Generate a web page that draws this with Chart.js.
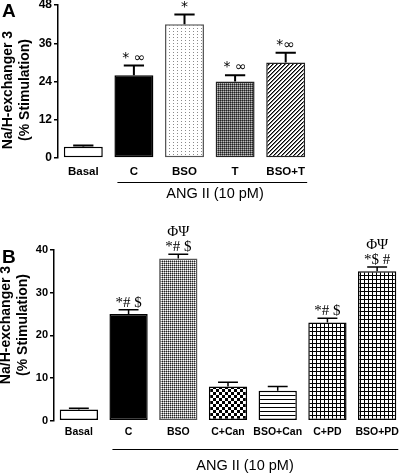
<!DOCTYPE html>
<html>
<head>
<meta charset="utf-8">
<script src="https://cdn.jsdelivr.net/npm/chart.js@4.4.0/dist/chart.umd.min.js"></script>
<style>
  html, body { margin: 0; padding: 0; background: #fff; overflow: hidden; }
  #page { position: relative; width: 400px; height: 475px; overflow: hidden; font-family: 'Liberation Sans', Arial, sans-serif; color: #000; }
  canvas { position: absolute; left: 0; }
  #chartA { top: 0; }
  #chartB { top: 215px; }
  .panel { position: absolute; left: 2px; font-weight: bold; font-size: 19px; line-height: 1; }
  .ytitle { position: absolute; font-weight: bold; font-size: 14px; line-height: 17px; white-space: nowrap; text-align: center; transform: translate(-50%, -50%) rotate(-90deg); }
  .group { position: absolute; font-size: 14.5px; white-space: nowrap; transform: translate(-50%, -50%); }
</style>
</head>
<body>
<div id="page">
  <canvas id="chartA" width="400" height="210"></canvas>
  <canvas id="chartB" width="402" height="260"></canvas>
  <div class="panel" style="top:1px">A</div>
  <div class="panel" style="top:247px">B</div>
  <div class="ytitle" style="left:16px; top:90px">Na/H-exchanger 3<br>(% Stimulation)</div>
  <div class="ytitle" style="left:14px; top:325px">Na/H-exchanger 3<br>(% Stimulation)</div>
  <div class="group" id="groupA" style="left:215px; top:193px"></div>
  <div class="group" id="groupB" style="left:245px; top:465px"></div>
</div>
<script>
// panel A
const categoriesA = ['Basal', 'C', 'BSO', 'T', 'BSO+T'];
const valuesA = [3.5, 26, 42, 24, 30];
const errorsA = [0.4, 3, 3, 2, 3];
const marksA = [[], ['* \u221E'], ['*'], ['* \u221E'], ['*\u221E']];
const yTicksA = [0, 12, 24, 36, 48];

// panel B
const categoriesB = ['Basal', 'C', 'BSO', 'C+Can', 'BSO+Can', 'C+PD', 'BSO+PD'];
const valuesB = [2.6, 25, 38, 8, 7, 23, 35];
const errorsB = [0.3, 1, 1, 1, 1, 1, 1];
const marksB = [[], ['*# $'], ['\u03A6\u03A8', '*# $'], [], [], ['*# $'], ['\u03A6\u03A8', '*$ #']];
const yTicksB = [0, 10, 20, 30, 40];

const groupLabel = 'ANG II (10 pM)';
const sans = "'Liberation Sans', Arial, sans-serif";

document.getElementById('groupA').textContent = groupLabel;
document.getElementById('groupB').textContent = groupLabel;

function tile(ctx, w, h, paint) {
  const c = document.createElement('canvas');
  c.width = w;
  c.height = h;
  const g = c.getContext('2d');
  g.fillStyle = '#fff';
  g.fillRect(0, 0, w, h);
  paint(g);
  return ctx.createPattern(c, 'repeat');
}

function dot(g, x, y, color) {
  g.fillStyle = color;
  g.fillRect(x, y, 1, 1);
}

// error bars, significance marks and the ANG II bracket
const barExtras = {
  id: 'barExtras',
  afterDatasetsDraw(chart, args, opts) {
    const { ctx, chartArea } = chart;
    const y = chart.scales.y;
    const ds = chart.data.datasets[0];
    const bars = chart.getDatasetMeta(0).data;
    ctx.save();
    ctx.strokeStyle = '#000';
    ctx.fillStyle = '#000';
    ctx.lineWidth = opts.lineWidth;
    bars.forEach((bar, i) => {
      const top = y.getPixelForValue(ds.data[i]);
      const cap = y.getPixelForValue(ds.data[i] + ds.errors[i]);
      const half = bar.width * 0.26;
      ctx.beginPath();
      ctx.moveTo(bar.x, top);
      ctx.lineTo(bar.x, cap);
      ctx.moveTo(bar.x - half, cap);
      ctx.lineTo(bar.x + half, cap);
      ctx.stroke();

      const lines = ds.marks[i];
      ctx.font = opts.markFont;
      ctx.textAlign = 'center';
      ctx.textBaseline = 'alphabetic';
      lines.forEach((txt, j) => {
        const ty = cap - opts.markGap - (lines.length - 1 - j) * opts.lineStep;
        ctx.fillText(txt, bar.x, ty);
      });
    });

    const first = bars[1];
    const last = bars[bars.length - 1];
    const by = Math.round(chartArea.bottom + opts.bracketOffset) + 0.5;
    ctx.lineWidth = 1;
    ctx.beginPath();
    ctx.moveTo(first.x - first.width / 2 + 3, by);
    ctx.lineTo(last.x + last.width / 2 + 2, by);
    ctx.stroke();
    ctx.restore();
  }
};

function makeChart(canvasId, cfg) {
  const ctx = document.getElementById(canvasId).getContext('2d');
  return new Chart(ctx, {
    type: 'bar',
    data: {
      labels: cfg.labels,
      datasets: [{
        data: cfg.values,
        errors: cfg.errors,
        marks: cfg.marks,
        backgroundColor: cfg.fills(ctx),
        borderColor: cfg.borders,
        borderWidth: 1.5,
        borderSkipped: false,
        barPercentage: 0.77,
        categoryPercentage: 1,
      }],
    },
    options: {
      responsive: false,
      animation: false,
      events: [],
      layout: { padding: { top: cfg.top, right: cfg.right, left: 0, bottom: 0 } },
      plugins: {
        legend: { display: false },
        tooltip: { enabled: false },
        barExtras: cfg.extras,
      },
      scales: {
        x: {
          offset: true,
          grid: { display: false, drawTicks: false },
          border: { display: false },
          ticks: {
            color: '#000',
            padding: cfg.labelPad,
            maxRotation: 0,
            autoSkip: false,
            font: { family: sans, weight: 'bold', size: cfg.labelSize },
          },
          afterFit: (s) => {
            s.height = cfg.xHeight;
            s.paddingLeft = 0;
            s.paddingRight = 0;
          },
        },
        y: {
          min: 0,
          max: cfg.ticks[cfg.ticks.length - 1],
          afterBuildTicks: (s) => {
            s.ticks = cfg.ticks.map((v) => ({ value: v }));
          },
          border: { display: true, color: '#000', width: 1.5 },
          grid: { drawOnChartArea: false, drawTicks: true, tickLength: 4, color: '#000', lineWidth: 1.5 },
          ticks: {
            color: '#000',
            padding: 2,
            font: { family: sans, weight: 'bold', size: cfg.tickSize },
          },
          afterFit: (s) => {
            s.width = cfg.left;
            s.paddingTop = 0;
            s.paddingBottom = 0;
          },
        },
      },
    },
    plugins: [barExtras],
  });
}

makeChart('chartA', {
  labels: categoriesA,
  values: valuesA,
  errors: errorsA,
  marks: marksA,
  ticks: yTicksA,
  fills: (ctx) => [
    '#fff',
    '#000',
    tile(ctx, 4, 3, (g) => dot(g, 1, 1, '#8a8a8a')),
    tile(ctx, 2, 2, (g) => { dot(g, 0, 0, '#222'); dot(g, 1, 1, '#bbb'); dot(g, 1, 0, '#666'); dot(g, 0, 1, '#666'); }),
    tile(ctx, 4, 4, (g) => {
      for (let x = 0; x < 4; x++) {
        for (let yy = 0; yy < 4; yy++) {
          const k = (x + yy) % 4;
          if (k === 0) dot(g, x, yy, '#000');
          if (k === 1) dot(g, x, yy, '#777');
        }
      }
    }),
  ],
  borders: ['#000', '#000', '#555', '#222', '#222'],
  top: 5,
  right: 89,
  left: 58,
  xHeight: 52,
  labelPad: 7,
  labelSize: 11.5,
  tickSize: 12,
  extras: { lineWidth: 2, markFont: "14px 'DejaVu Sans', sans-serif", markGap: 4, lineStep: 15, bracketOffset: 24 },
});

makeChart('chartB', {
  labels: categoriesB,
  values: valuesB,
  errors: errorsB,
  marks: marksB,
  ticks: yTicksB,
  fills: (ctx) => [
    '#fff',
    '#000',
    tile(ctx, 2, 2, (g) => { dot(g, 0, 0, '#222'); dot(g, 1, 1, '#fff'); dot(g, 1, 0, '#999'); dot(g, 0, 1, '#999'); }),
    tile(ctx, 6, 6, (g) => { g.fillStyle = '#000'; g.fillRect(0, 0, 3, 3); g.fillRect(3, 3, 3, 3); }),
    tile(ctx, 4, 4, (g) => { g.fillStyle = '#000'; g.fillRect(0, 0, 4, 1); }),
    tile(ctx, 4, 4, (g) => { g.fillStyle = '#000'; g.fillRect(0, 0, 4, 1); g.fillRect(0, 0, 1, 4); }),
    tile(ctx, 4, 4, (g) => { g.fillStyle = '#000'; g.fillRect(0, 0, 4, 1); g.fillRect(0, 0, 1, 4); }),
  ],
  borders: ['#000', '#000', '#555', '#000', '#000', '#000', '#000'],
  top: 35,
  right: 0,
  left: 54,
  xHeight: 54.3,
  labelPad: 5,
  labelSize: 10.5,
  tickSize: 11,
  extras: { lineWidth: 1.5, markFont: "15px 'Liberation Serif', 'Times New Roman', serif", markGap: 3, lineStep: 15, bracketOffset: 28 },
});
</script>
</body>
</html>
